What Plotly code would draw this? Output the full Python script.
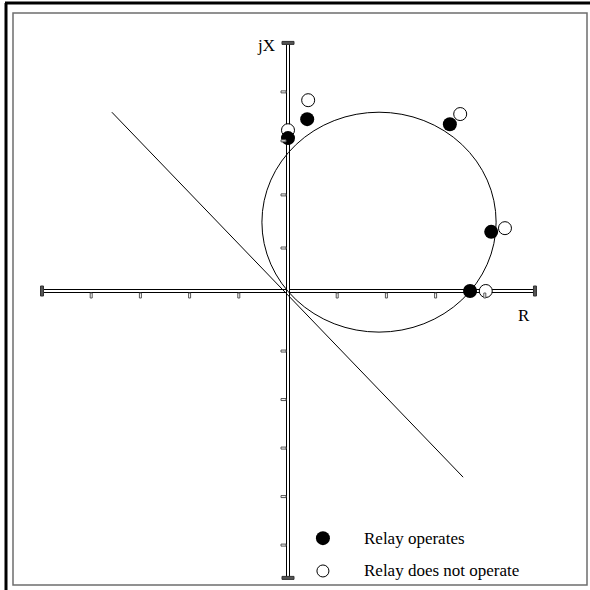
import plotly.graph_objects as go

# Mho relay characteristic in the R-X plane (units of ohms)
mho_center = (1.85, 1.49)
mho_radius = 2.38

# Test impedances: relay operates
operate_r = [0.0, 0.39, 3.29, 4.13, 3.70]
operate_x = [3.31, 3.72, 3.61, 1.28, 0.0]

# Test impedances: relay does not operate
no_op_r = [0.0, 0.41, 3.50, 4.41, 4.02]
no_op_x = [3.48, 4.13, 3.83, 1.36, 0.0]

# Straight line through the origin
line_r = [-3.58, 3.56]
line_x = [3.87, -4.03]

# Axis extents and tick positions
r_limits = [-5.0, 5.02]
x_limits = [-6.21, 5.37]
r_ticks = [-4, -3, -2, -1, 1, 2, 3, 4]
x_ticks = [4.31, 3.25, 2.08, 0.93, -1.3, -2.35, -3.4, -4.45, -5.5]

legend_labels = ["Relay operates", "Relay does not operate"]
legend_rows = [-5.35, -6.06]
legend_marker_r = 0.71
legend_text_r = 1.50

SERIF = "Liberation Serif, Times New Roman, serif"

fig = go.Figure()

shapes = []
# page frame
shapes.append(dict(type="rect", xref="paper", yref="paper",
                   x0=13/590, x1=587/590, y0=1-585/590, y1=1-13/590,
                   line=dict(color="#6e6e6e", width=1.5), fillcolor="white", layer="below"))
shapes.append(dict(type="line", xref="paper", yref="paper",
                   x0=5/590, x1=1, y0=1-3/590, y1=1-3/590,
                   line=dict(color="black", width=3), layer="below"))
shapes.append(dict(type="line", xref="paper", yref="paper",
                   x0=6/590, x1=6/590, y0=0, y1=1-3/590,
                   line=dict(color="black", width=3), layer="below"))

# double-line axes
shapes.append(dict(type="rect", x0=r_limits[0], x1=r_limits[1],
                   ysizemode="pixel", yanchor=0, y0=-1.5, y1=1.5,
                   line=dict(color="black", width=1), fillcolor="white", layer="below"))
shapes.append(dict(type="rect", y0=x_limits[0], y1=x_limits[1],
                   xsizemode="pixel", xanchor=0, x0=-1.5, x1=1.5,
                   line=dict(color="black", width=1), fillcolor="white", layer="below"))

# tick marks
for t in r_ticks:
    shapes.append(dict(type="rect", xsizemode="pixel", xanchor=t, x0=-1, x1=1,
                       ysizemode="pixel", yanchor=0, y0=-7, y1=-2,
                       line=dict(color="#555", width=1), fillcolor="white"))
for t in x_ticks:
    shapes.append(dict(type="rect", ysizemode="pixel", yanchor=t, y0=-1, y1=1,
                       xsizemode="pixel", xanchor=0, x0=-7, x1=-2,
                       line=dict(color="#555", width=1), fillcolor="white"))

# end caps
for t in r_limits:
    shapes.append(dict(type="rect", xsizemode="pixel", xanchor=t, x0=-1.5, x1=1.5,
                       ysizemode="pixel", yanchor=0, y0=-5, y1=5,
                       line=dict(color="#333", width=1), fillcolor="#555"))
for t in x_limits:
    shapes.append(dict(type="rect", ysizemode="pixel", yanchor=t, y0=-1.5, y1=1.5,
                       xsizemode="pixel", xanchor=0, x0=-6, x1=6,
                       line=dict(color="#333", width=1), fillcolor="#555"))

# mho circle
shapes.append(dict(type="circle",
                   x0=mho_center[0]-mho_radius, x1=mho_center[0]+mho_radius,
                   y0=mho_center[1]-mho_radius, y1=mho_center[1]+mho_radius,
                   line=dict(color="black", width=1)))

fig.add_trace(go.Scatter(x=line_r, y=line_x, mode="lines",
                         line=dict(color="black", width=1), showlegend=False,
                         hoverinfo="skip"))

fig.add_trace(go.Scatter(x=no_op_r, y=no_op_x, mode="markers",
                         marker=dict(symbol="circle", size=13, color="white",
                                     line=dict(color="black", width=1)),
                         showlegend=False))
fig.add_trace(go.Scatter(x=operate_r, y=operate_x, mode="markers",
                         marker=dict(symbol="circle", size=14, color="black",
                                     line=dict(color="black", width=0)),
                         showlegend=False))

# legend keys
fig.add_trace(go.Scatter(x=[legend_marker_r], y=[legend_rows[0]], mode="markers",
                         marker=dict(symbol="circle", size=14, color="black"),
                         showlegend=False, hoverinfo="skip"))
fig.add_trace(go.Scatter(x=[legend_marker_r], y=[legend_rows[1]], mode="markers",
                         marker=dict(symbol="circle", size=12, color="white",
                                     line=dict(color="black", width=1)),
                         showlegend=False, hoverinfo="skip"))

annotations = [
    dict(x=-0.45, y=5.32, text="jX", showarrow=False, xanchor="center", yanchor="middle",
         font=dict(family=SERIF, size=17, color="black")),
    dict(x=4.80, y=-0.54, text="R", showarrow=False, xanchor="center", yanchor="middle",
         font=dict(family=SERIF, size=17, color="black")),
]
for lab, yy in zip(legend_labels, legend_rows):
    annotations.append(dict(x=legend_text_r, y=yy, text=lab, showarrow=False,
                            xanchor="left", yanchor="middle",
                            font=dict(family=SERIF, size=17, color="black")))

fig.update_layout(
    width=590, height=590,
    margin=dict(l=0, r=0, t=0, b=0),
    paper_bgcolor="white", plot_bgcolor="white",
    xaxis=dict(visible=False, range=[-288/49.2, 302/49.2], fixedrange=True),
    yaxis=dict(visible=False, range=[-(590-291)/46.2, 291/46.2], fixedrange=True),
    shapes=shapes, annotations=annotations, showlegend=False,
)

fig.write_html("out.html")
